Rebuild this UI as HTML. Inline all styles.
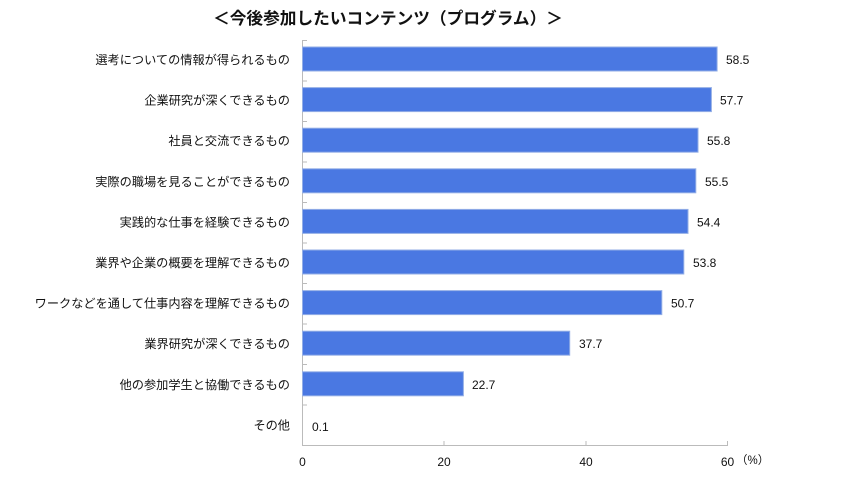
<!DOCTYPE html>
<html><head><meta charset="utf-8"><style>
body{margin:0;background:#fff;}
svg text{font-family:"Liberation Sans","Noto Sans CJK JP",sans-serif;fill:#111;}
</style></head><body>
<svg width="844" height="476" viewBox="0 0 844 476" xmlns="http://www.w3.org/2000/svg">
<text x="388" y="24" font-size="16.7" font-weight="bold" text-anchor="middle">＜今後参加したいコンテンツ（プログラム）＞</text>
<g stroke="#bbb" stroke-width="1">
<line x1="302.5" y1="40" x2="302.5" y2="446"/>
<line x1="302.5" y1="445.5" x2="728" y2="445.5"/>
<line x1="444" y1="441" x2="444" y2="446"/>
<line x1="586" y1="441" x2="586" y2="446"/>
<line x1="727.5" y1="441" x2="727.5" y2="446"/>
<line x1="302" y1="40.5" x2="307" y2="40.5"/>
<line x1="302" y1="81" x2="307" y2="81"/><line x1="302" y1="121.5" x2="307" y2="121.5"/>
<line x1="302" y1="162" x2="307" y2="162"/><line x1="302" y1="202.5" x2="307" y2="202.5"/>
<line x1="302" y1="243" x2="307" y2="243"/><line x1="302" y1="283.5" x2="307" y2="283.5"/>
<line x1="302" y1="324" x2="307" y2="324"/><line x1="302" y1="364.5" x2="307" y2="364.5"/>
<line x1="302" y1="405" x2="307" y2="405"/>
</g>
<g fill="#4a78e2" stroke="#93aee6" stroke-width="1">
<rect x="302.5" y="47" width="414.6" height="24"/>
<rect x="302.5" y="87.6" width="408.9" height="24"/>
<rect x="302.5" y="128.2" width="395.5" height="24"/>
<rect x="302.5" y="168.8" width="393.3" height="24"/>
<rect x="302.5" y="209.4" width="385.5" height="24"/>
<rect x="302.5" y="250" width="381.3" height="24"/>
<rect x="302.5" y="290.6" width="359.3" height="24"/>
<rect x="302.5" y="331.2" width="267.2" height="24"/>
<rect x="302.5" y="371.8" width="160.9" height="24"/>
</g>
<g font-size="12.2" text-anchor="end">
<text x="290" y="64">選考についての情報が得られるもの</text>
<text x="290" y="104.6">企業研究が深くできるもの</text>
<text x="290" y="145.2">社員と交流できるもの</text>
<text x="290" y="185.8">実際の職場を見ることができるもの</text>
<text x="290" y="226.4">実践的な仕事を経験できるもの</text>
<text x="290" y="267">業界や企業の概要を理解できるもの</text>
<text x="290" y="307.6">ワークなどを通して仕事内容を理解できるもの</text>
<text x="290" y="348.2">業界研究が深くできるもの</text>
<text x="290" y="388.8">他の参加学生と協働できるもの</text>
<text x="290" y="429.4">その他</text>
</g>
<g font-size="12">
<text x="726" y="64">58.5</text>
<text x="720" y="104.6">57.7</text>
<text x="707" y="145.2">55.8</text>
<text x="705" y="185.8">55.5</text>
<text x="697" y="226.4">54.4</text>
<text x="693" y="267">53.8</text>
<text x="671" y="307.6">50.7</text>
<text x="579" y="348.2">37.7</text>
<text x="472" y="388.8">22.7</text>
<text x="312" y="431">0.1</text>
</g>
<g font-size="12" text-anchor="middle">
<text x="302.5" y="466">0</text>
<text x="444" y="466">20</text>
<text x="586" y="466">40</text>
<text x="727.5" y="466">60</text>
</g>
<text x="736" y="464" font-size="11.5">（%）</text>
</svg>
</body></html>
